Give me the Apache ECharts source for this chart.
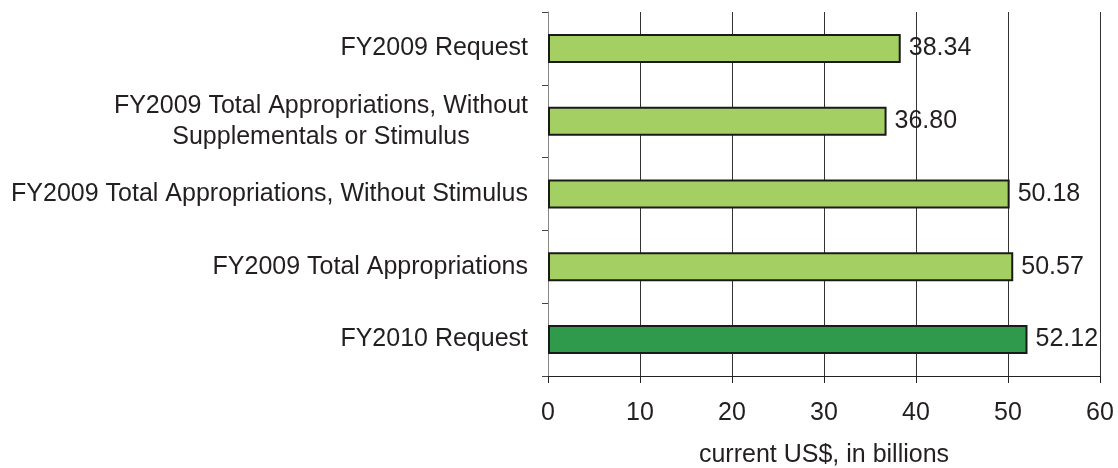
<!DOCTYPE html>
<html>
<head>
<meta charset="utf-8">
<script src="https://cdn.jsdelivr.net/npm/echarts@6/dist/echarts.min.js"></script>
<style>
  html, body { margin: 0; padding: 0; background: #fff; }
  #chart { width: 1118px; height: 468px; }
</style>
</head>
<body>
<div id="chart"></div>
<script>
// 类别与数值
const categories = [
  'FY2009 Request',
  'FY2009 Total Appropriations, Without\nSupplementals or Stimulus',
  'FY2009 Total Appropriations, Without Stimulus',
  'FY2009 Total Appropriations',
  'FY2010 Request'
];
const values = [38.34, 36.80, 50.18, 50.57, 52.12];
const barColors = ['#a4cf62', '#a4cf62', '#a4cf62', '#a4cf62', '#2f9a4b'];
const xTicks = [0, 10, 20, 30, 40, 50, 60];

const font = '"Liberation Sans", Arial, sans-serif';
const textColor = '#231f20';
const fs = 25;

const chart = echarts.init(document.getElementById('chart'));

var option = {
  animation: false,
  grid: { left: 548, right: 18, top: 12, bottom: 92, outerBoundsMode: 'none', containLabel: false },
  xAxis: {
    type: 'value',
    min: xTicks[0],
    max: xTicks[xTicks.length - 1],
    interval: 10,
    name: 'current US$, in billions',
    nameLocation: 'middle',
    nameGap: 67,
    nameTextStyle: { fontSize: fs, fontFamily: font, color: textColor },
    axisLine: { show: true, lineStyle: { color: '#222', width: 1 } },
    axisTick: { show: true, length: 7, lineStyle: { color: '#222' } },
    axisLabel: { fontSize: fs, fontFamily: font, color: textColor, margin: 25 },
    splitLine: { show: true, lineStyle: { color: '#333', width: 1 } }
  },
  yAxis: {
    type: 'category',
    inverse: true,
    data: categories,
    axisLine: { show: true, lineStyle: { color: '#888', width: 1 } },
    axisTick: { show: true, length: 6, lineStyle: { color: '#444' } },
    axisLabel: {
      margin: 20,
      fontSize: fs,
      fontFamily: font,
      color: textColor,
      lineHeight: 31,
      formatter: function (v) {
        return v.split('\n').map(function (s) { return '{c|' + s + '}'; }).join('\n');
      },
      rich: {
        c: { align: 'center', fontSize: fs, fontFamily: font, color: textColor, lineHeight: 31 }
      }
    }
  },
  series: [
    {
      type: 'bar',
      barWidth: 29,
      data: values.map(function (v, i) {
        return { value: v, itemStyle: { color: barColors[i] } };
      }),
      itemStyle: { borderColor: '#1a1a1a', borderWidth: 2 },
      label: {
        show: true,
        position: 'right',
        distance: 8,
        fontSize: fs,
        fontFamily: font,
        color: textColor,
        formatter: function (p) { return p.value.toFixed(2); }
      }
    }
  ]
};
chart.setOption(option);
</script>
</body>
</html>
